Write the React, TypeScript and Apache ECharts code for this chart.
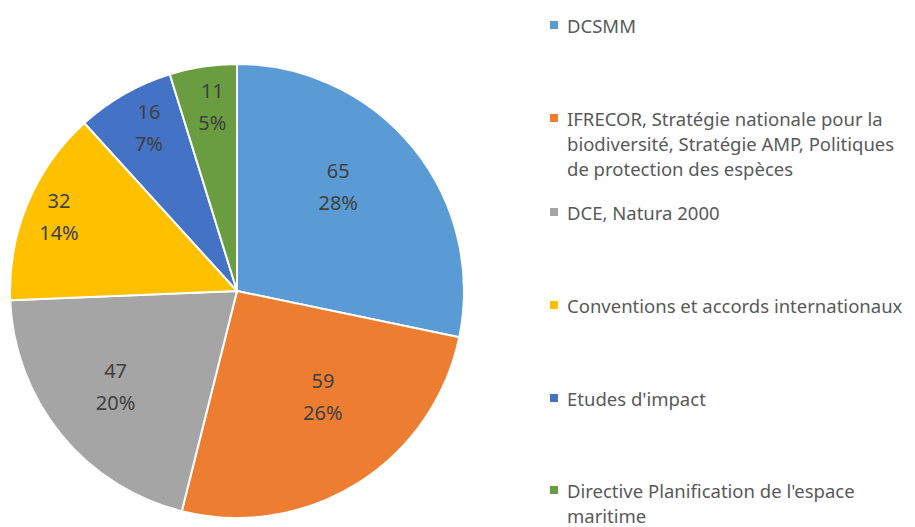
import React, { useEffect, useRef } from "react";
import * as echarts from "echarts";

const categories = [
  "DCSMM",
  "IFRECOR, Stratégie nationale pour la biodiversité, Stratégie AMP, Politiques de protection des espèces",
  "DCE, Natura 2000",
  "Conventions et accords internationaux",
  "Etudes d'impact",
  "Directive Planification de l'espace maritime",
];
const values = [65, 59, 47, 32, 16, 11];
const legendLines = [
  ["DCSMM"],
  ["IFRECOR, Stratégie nationale pour la", "biodiversité, Stratégie AMP, Politiques", "de protection des espèces"],
  ["DCE, Natura 2000"],
  ["Conventions et accords internationaux"],
  ["Etudes d'impact"],
  ["Directive Planification de l'espace", "maritime"],
];

// styling / layout
const colors = ["#5B9BD5", "#ED7D31", "#A5A5A5", "#FFC000", "#4472C4", "#699D40"];
const CX = 237;
const CY = 291;
const R = 227;
const labelRadius = [0.64, 0.6, 0.68, 0.85, 0.82, 0.82];
const labelAngleShift = [-6.7, -7, 1, 0, 1.5, 1];
const legendFirstLineY = [25, 118, 212, 305, 398, 490];
const LH = 25;
const FONT = "'Noto Sans', 'Open Sans', sans-serif";

export default function App() {
  const ref = useRef<HTMLDivElement>(null);
  useEffect(() => {
    if (!ref.current) return;
    const chart = echarts.init(ref.current, undefined, { renderer: "svg" });
    const total = values.reduce((a, b) => a + b, 0);
    const starts: number[] = [];
    let acc = 0;
    values.forEach((v) => {
      starts.push(acc);
      acc += v;
    });
    const legends = categories.map((name, i) => {
      const n = legendLines[i].length;
      const P = (n - 1) * LH;
      // blank lines above so that the first text line sits beside the icon
      const text = "\n".repeat(n - 1) + legendLines[i].join("\n");
      return {
        show: true,
        orient: "vertical",
        left: 550,
        top: legendFirstLineY[i] - LH / 2 - P,
        padding: 0,
        data: [name],
        icon: "rect",
        itemWidth: 8,
        itemHeight: 8,
        itemStyle: { borderWidth: 0 },
        selectedMode: false,
        formatter: () => text,
        textStyle: {
          fontFamily: FONT,
          fontSize: 18.5,
          color: "#595959",
          lineHeight: LH,
          padding: [0, 0, 0, 4],
        },
      };
    });
    chart.setOption({
      animation: false,
      color: colors,
      legend: legends,
      series: [
        {
          type: "pie",
          center: [CX, CY],
          radius: R,
          startAngle: 90,
          clockwise: true,
          percentPrecision: 0,
          itemStyle: { borderColor: "#ffffff", borderWidth: 2 },
          label: {
            show: true,
            position: "inside",
            formatter: "{c}\n{d}%",
            fontFamily: FONT,
            fontSize: 20,
            lineHeight: 32,
            color: "#404040",
          },
          labelLine: { show: false },
          emphasis: { disabled: true },
          labelLayout: (params: any) => {
            const i = params.dataIndex;
            const mid =
              ((starts[i] + values[i] / 2) / total) * Math.PI * 2 +
              (labelAngleShift[i] * Math.PI) / 180;
            const rr = R * labelRadius[i];
            return {
              x: CX + rr * Math.sin(mid),
              y: CY - rr * Math.cos(mid),
              align: "center",
              verticalAlign: "middle",
            };
          },
          data: categories.map((name, i) => ({ name, value: values[i] })),
        },
      ],
    });
    return () => chart.dispose();
  }, []);
  return (
    <div
      ref={ref}
      style={{ position: "fixed", left: 0, top: 0, width: 915, height: 527, background: "#fff" }}
    />
  );
}
